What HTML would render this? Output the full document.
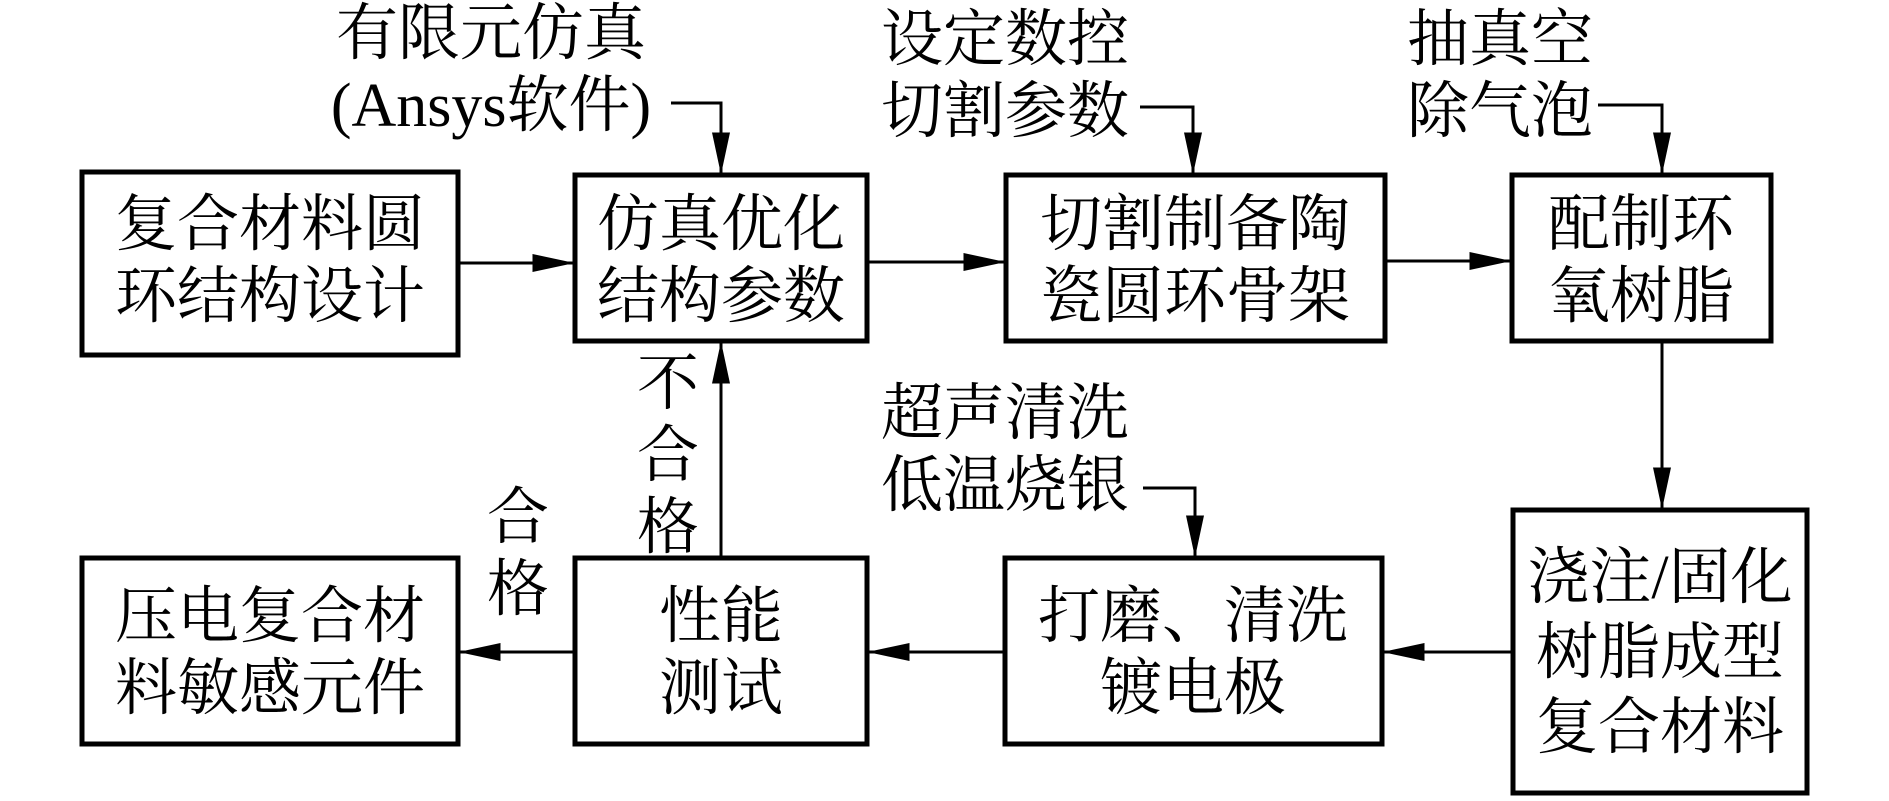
<!DOCTYPE html>
<html><head><meta charset="utf-8"><style>
html,body{margin:0;padding:0;background:#fff;}
svg text{font-family:"Liberation Serif","Noto Serif CJK SC",serif;font-size:62px;fill:#000;}
</style></head><body>
<svg width="1889" height="796" viewBox="0 0 1889 796" xmlns="http://www.w3.org/2000/svg">
<defs>
<marker id="a" markerWidth="14" markerHeight="6" refX="13.5" refY="3" orient="auto" markerUnits="strokeWidth"><path d="M0,0 L14,3 L0,6 z" fill="#000"/></marker>
</defs>
<g fill="none" stroke="#000" stroke-width="5">
<rect x="82" y="172" width="376" height="183"/>
<rect x="575" y="175" width="292" height="166"/>
<rect x="1006" y="175" width="379" height="166"/>
<rect x="1512" y="175" width="259" height="166"/>
<rect x="1513" y="510" width="294" height="283"/>
<rect x="1005" y="558" width="377" height="186"/>
<rect x="575" y="558" width="292" height="186"/>
<rect x="82" y="558" width="376" height="186"/>
</g>
<g fill="none" stroke="#000" stroke-width="3" marker-end="url(#a)">
<path d="M458,263 H573"/>
<path d="M867,262 H1004"/>
<path d="M1385,261 H1510"/>
<path d="M1662,341 V508"/>
<path d="M1513,652 H1384"/>
<path d="M1005,652 H869"/>
<path d="M575,652 H460"/>
<path d="M721,558 V343"/>
<path d="M671,103 H721 V173"/>
<path d="M1140,107 H1193 V173"/>
<path d="M1598,105 H1662 V173"/>
<path d="M1143,488 H1195 V556"/>
</g>
<g text-anchor="middle">
<text x="491" y="54">有限元仿真</text>
<text x="491" y="126">(Ansys软件)</text>
<text x="1005" y="60">设定数控</text>
<text x="1005" y="132">切割参数</text>
<text x="1500" y="60">抽真空</text>
<text x="1500" y="132">除气泡</text>
<text x="1005" y="434">超声清洗</text>
<text x="1005" y="506">低温烧银</text>
<text x="668" y="404">不</text>
<text x="668" y="476">合</text>
<text x="668" y="548">格</text>
<text x="518" y="538">合</text>
<text x="518" y="610">格</text>
<text x="270" y="245">复合材料圆</text>
<text x="270" y="317">环结构设计</text>
<text x="721" y="245">仿真优化</text>
<text x="721" y="317">结构参数</text>
<text x="1195" y="245">切割制备陶</text>
<text x="1195" y="317">瓷圆环骨架</text>
<text x="1641" y="245">配制环</text>
<text x="1641" y="317">氧树脂</text>
<text x="1660" y="598">浇注/固化</text>
<text x="1660" y="673">树脂成型</text>
<text x="1660" y="748">复合材料</text>
<text x="1193" y="637">打磨、清洗</text>
<text x="1193" y="709">镀电极</text>
<text x="721" y="637">性能</text>
<text x="721" y="709">测试</text>
<text x="270" y="637">压电复合材</text>
<text x="270" y="709">料敏感元件</text>
</g>
</svg>
</body></html>
